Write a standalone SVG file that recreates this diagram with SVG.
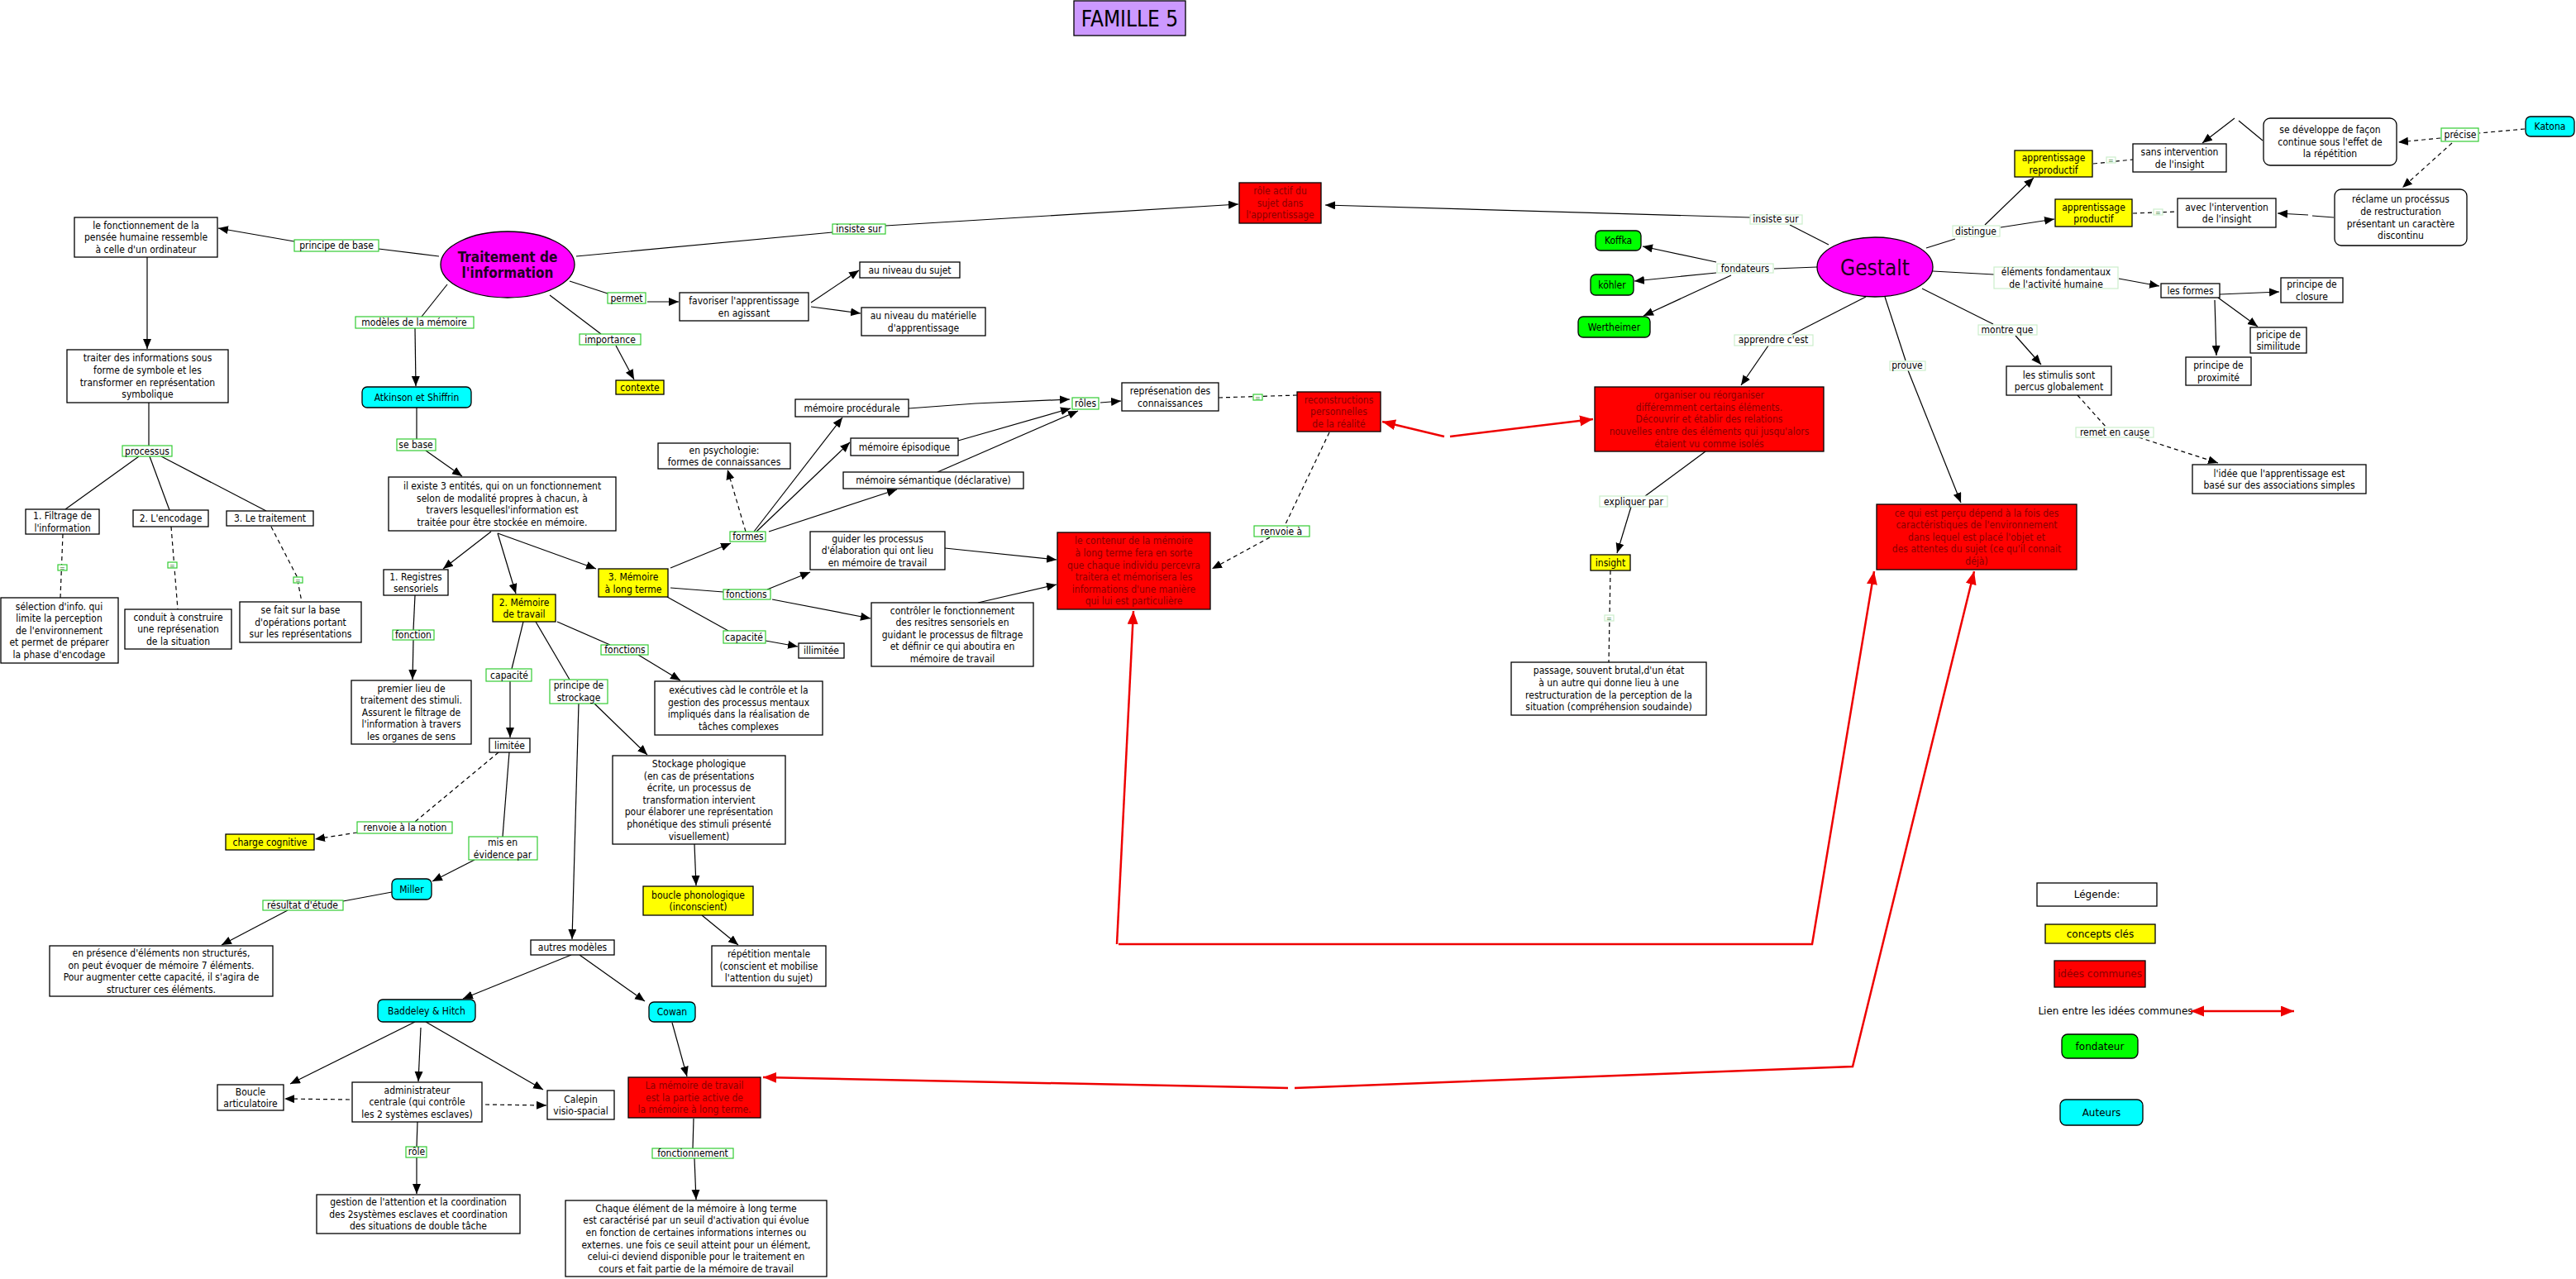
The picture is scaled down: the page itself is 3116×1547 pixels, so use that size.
<svg xmlns="http://www.w3.org/2000/svg" width="3116" height="1547" viewBox="0 0 3116 1547">
<style>
.n{fill:#fff;stroke:#000;stroke-width:1.3}
.y{fill:#ff0;stroke:#000;stroke-width:1.3}
.r{fill:#f00;stroke:#000;stroke-width:1.3}
.c{fill:#0ff;stroke:#000;stroke-width:1.3}
.g{fill:#0f0;stroke:#000;stroke-width:1.3}
.m{fill:#f0f;stroke:#000;stroke-width:1.3}
.p{fill:#c9f;stroke:#000;stroke-width:1.3}
.lb{fill:#fff;stroke:#3c3;stroke-width:1.2}
.lp{fill:#fff;stroke:#cec;stroke-width:1.2}
text{font-family:"DejaVu Sans Condensed","Liberation Sans",sans-serif;font-size:12px;fill:#000;text-anchor:middle}
.rt{fill:#800}
.lg{font-family:"DejaVu Sans","Liberation Sans",sans-serif}
.eq{font-size:9px;fill:#060}
.l{stroke:#000;stroke-width:1.2;fill:none}
.d{stroke-dasharray:5,4}
.rl{stroke:#e00;stroke-width:2.5;fill:none}
.ah{marker-end:url(#a)}
.rh{marker-end:url(#ar)}
</style>
<defs>
<marker id="a" markerUnits="userSpaceOnUse" markerWidth="13" markerHeight="11" refX="12" refY="5" orient="auto"><path d="M0,0 L12,5 L0,10 z" fill="#000"/></marker>
<marker id="ar" markerUnits="userSpaceOnUse" markerWidth="17" markerHeight="14" refX="16" refY="6.5" orient="auto"><path d="M0,0 L16,6.5 L0,13 z" fill="#e00"/></marker>
</defs>

<g id="connectors">
<path class="l" d="M531,310 L458,301"/>
<path class="l ah" d="M356,292 L264,276"/>
<path class="l ah" d="M178,311 L178,422"/>
<path class="l" d="M180,487 L180,539"/>
<path class="l" d="M168,552 L79,616"/>
<path class="l" d="M181,552 L205,617"/>
<path class="l" d="M195,552 L322,618"/>
<path class="l d" d="M76,646 L73,723"/>
<path class="l d" d="M207,637 L215,737"/>
<path class="l d" d="M328,637 L359,697 L365,728"/>
<path class="l" d="M541,344 L510,383"/>
<path class="l ah" d="M502,397 L503,467"/>
<path class="l" d="M504,493 L504,531"/>
<path class="l ah" d="M515,545 L559,576"/>
<path class="l ah" d="M594,643 L536,688"/>
<path class="l ah" d="M602,645 L624,718"/>
<path class="l ah" d="M602,645 L721,688"/>
<path class="l" d="M502,720 L500,762"/>
<path class="l ah" d="M500,774 L499,822"/>
<path class="l" d="M633,752 L619,809"/>
<path class="l ah" d="M617,824 L617,892"/>
<path class="l d" d="M603,910 L502,994"/>
<path class="l d ah" d="M432,1007 L381,1015"/>
<path class="l" d="M616,910 L608,1012"/>
<path class="l ah" d="M574,1040 L523,1066"/>
<path class="l" d="M474,1079 L415,1090"/>
<path class="l ah" d="M348,1101 L268,1143"/>
<path class="l" d="M648,752 L689,822"/>
<path class="l ah" d="M700,851 L692,1136"/>
<path class="l ah" d="M719,851 L783,913"/>
<path class="l" d="M674,752 L738,780"/>
<path class="l ah" d="M772,792 L823,823"/>
<path class="l ah" d="M840,1021 L842,1071"/>
<path class="l ah" d="M849,1107 L893,1143"/>
<path class="l ah" d="M691,1155 L560,1208"/>
<path class="l ah" d="M701,1155 L780,1211"/>
<path class="l ah" d="M502,1236 L351,1311"/>
<path class="l ah" d="M509,1243 L506,1308"/>
<path class="l ah" d="M515,1236 L657,1318"/>
<path class="l d ah" d="M423,1330 L344,1329"/>
<path class="l d ah" d="M587,1336 L661,1337"/>
<path class="l" d="M505,1357 L504,1387"/>
<path class="l ah" d="M504,1400 L504,1444"/>
<path class="l ah" d="M813,1237 L831,1302"/>
<path class="l" d="M839,1353 L838,1389"/>
<path class="l ah" d="M840,1401 L842,1451"/>
<path class="l" d="M689,340 L735,355"/>
<path class="l ah" d="M783,365 L821,365"/>
<path class="l ah" d="M981,366 L1039,327"/>
<path class="l ah" d="M981,371 L1041,379"/>
<path class="l" d="M665,357 L727,404"/>
<path class="l ah" d="M745,418 L767,459"/>
<path class="l" d="M697,310 L1007,281"/>
<path class="l ah" d="M1071,273 L1498,247"/>
<path class="l ah" d="M811,687 L884,657"/>
<path class="l d ah" d="M902,643 L880,568"/>
<path class="l ah" d="M912,643 L1019,505"/>
<path class="l ah" d="M915,643 L1028,535"/>
<path class="l ah" d="M930,643 L1085,592"/>
<path class="l" d="M811,711 L875,716"/>
<path class="l ah" d="M928,713 L980,692"/>
<path class="l ah" d="M934,725 L1053,748"/>
<path class="l" d="M807,722 L881,763"/>
<path class="l ah" d="M926,775 L965,782"/>
<path class="l ah" d="M1143,663 L1278,677"/>
<path class="l ah" d="M1183,729 L1278,707"/>
<path class="l ah" d="M1099,494 L1180,488 L1294,483"/>
<path class="l ah" d="M1159,533 L1295,494"/>
<path class="l ah" d="M1134,571 L1304,497"/>
<path class="l ah" d="M1331,487 L1356,485"/>
<path class="l d" d="M1474,481 L1569,478"/>
<path class="l d" d="M1608,523 L1554,636"/>
<path class="l d ah" d="M1536,650 L1466,688"/>
<path class="rl rh" d="M1747,528 L1672,510"/>
<path class="rl rh" d="M1754,528 L1927,507"/>
<path class="rl rh" d="M1351,1142 L1371,739"/>
<path class="rl rh" d="M1353,1142 L2192,1142 L2267,691"/>
<path class="rl rh" d="M1558,1316 L923,1303"/>
<path class="rl rh" d="M1566,1316 L2241,1290 L2388,691"/>
<path class="l ah" d="M2117,263 L1603,248"/>
<path class="l" d="M2212,296 L2165,272"/>
<path class="l" d="M2198,323 L2146,325"/>
<path class="l ah" d="M2076,317 L1987,298"/>
<path class="l ah" d="M2076,330 L1977,340"/>
<path class="l ah" d="M2094,333 L1988,382"/>
<path class="l" d="M2330,300 L2365,289"/>
<path class="l ah" d="M2401,272 L2460,215"/>
<path class="l ah" d="M2420,275 L2485,265"/>
<path class="l d" d="M2532,198 L2580,193"/>
<path class="l d" d="M2580,258 L2634,256"/>
<path class="l" d="M2737,170 L2708,146"/>
<path class="l ah" d="M2703,143 L2664,173"/>
<path class="l d" d="M3054,156 L2999,161"/>
<path class="l d ah" d="M2952,167 L2901,172"/>
<path class="l d ah" d="M2966,173 L2906,227"/>
<path class="l" d="M2823,263 L2797,261"/>
<path class="l ah" d="M2792,260 L2755,258"/>
<path class="l" d="M2338,328 L2412,332"/>
<path class="l ah" d="M2563,337 L2612,346"/>
<path class="l ah" d="M2685,356 L2757,353"/>
<path class="l ah" d="M2683,360 L2731,395"/>
<path class="l ah" d="M2679,363 L2681,430"/>
<path class="l" d="M2325,349 L2411,392"/>
<path class="l ah" d="M2438,406 L2469,441"/>
<path class="l d" d="M2513,478 L2548,517"/>
<path class="l d ah" d="M2587,529 L2683,560"/>
<path class="l" d="M2257,359 L2167,405"/>
<path class="l ah" d="M2139,418 L2106,466"/>
<path class="l" d="M2280,359 L2305,436"/>
<path class="l ah" d="M2308,448 L2372,608"/>
<path class="l" d="M2063,546 L1990,600"/>
<path class="l ah" d="M1973,613 L1956,669"/>
<path class="l d" d="M1948,690 L1946,801"/>
</g>

<g id="labels">
<rect class="lb" x="356" y="290" width="102" height="14"/><text x="407" y="301.3">principe de base</text>
<rect class="lb" x="430" y="383" width="143" height="14"/><text x="501" y="394.3">modèles de la mémoire</text>
<rect class="lb" x="735" y="354" width="46" height="13"/><text x="758" y="364.8">permet</text>
<rect class="lb" x="701" y="404" width="74" height="13"/><text x="738" y="414.8">importance</text>
<rect class="lb" x="1007" y="271" width="64" height="12"/><text x="1039" y="281.3">insiste sur</text>
<rect class="lb" x="148" y="539" width="60" height="13"/><text x="178" y="549.8">processus</text>
<rect class="lb" x="480" y="531" width="47" height="14"/><text x="503" y="542.3">se base</text>
<rect class="lb" x="475" y="762" width="50" height="12"/><text x="500" y="772.3">fonction</text>
<rect class="lb" x="588" y="809" width="55" height="15"/><text x="616" y="820.8">capacité</text>
<rect class="lb" x="665" y="822" width="70" height="29"/><text x="700" y="833"><tspan x="700">principe de</tspan><tspan x="700" dy="14.6">strockage</tspan></text>
<rect class="lb" x="727" y="780" width="57" height="12"/><text x="756" y="790.3">fonctions</text>
<rect class="lb" x="432" y="994" width="115" height="14"/><text x="490" y="1005.3">renvoie à la notion</text>
<rect class="lb" x="567" y="1012" width="83" height="28"/><text x="608" y="1023"><tspan x="608">mis en</tspan><tspan x="608" dy="14.6">évidence par</tspan></text>
<rect class="lb" x="318" y="1089" width="97" height="12"/><text x="366" y="1099.3">résultat d'étude</text>
<rect class="lb" x="491" y="1387" width="25" height="13"/><text x="504" y="1397.3">rôle</text>
<rect class="lb" x="789" y="1389" width="98" height="12"/><text x="838" y="1399.3">fonctionnement</text>
<rect class="lb" x="883" y="643" width="43" height="12"/><text x="905" y="653.3">formes</text>
<rect class="lb" x="875" y="713" width="57" height="12"/><text x="903" y="723.3">fonctions</text>
<rect class="lb" x="875" y="763" width="51" height="15"/><text x="900" y="774.8">capacité</text>
<rect class="lb" x="1297" y="481" width="32" height="14"/><text x="1313" y="492.3">rôles</text>
<rect class="lb" x="1517" y="636" width="67" height="13"/><text x="1550" y="646.8">renvoie à</text>
<rect class="lb" x="70" y="683" width="11" height="7"/><text class="eq" x="75.5" y="690">=</text>
<rect class="lb" x="203" y="680" width="11" height="7"/><text class="eq" x="208.5" y="687">=</text>
<rect class="lb" x="355" y="698" width="11" height="7"/><text class="eq" x="360.5" y="705">=</text>
<rect class="lb" x="1516" y="477" width="11" height="7"/><text class="eq" x="1521.5" y="484">=</text>
<rect class="lp" x="2117" y="260" width="63" height="11"/><text x="2148" y="269.3">insiste sur</text>
<rect class="lp" x="2077" y="319" width="68" height="11"/><text x="2111" y="329.3">fondateurs</text>
<rect class="lp" x="2362" y="273" width="57" height="13"/><text x="2390" y="284.3">distingue</text>
<rect class="lp" x="2412" y="323" width="150" height="26"/><text x="2487" y="333"><tspan x="2487">éléments fondamentaux</tspan><tspan x="2487" dy="14.6">de l'activité humaine</tspan></text>
<rect class="lp" x="2393" y="393" width="71" height="12"/><text x="2428" y="403.3">montre que</text>
<rect class="lp" x="2098" y="405" width="95" height="13"/><text x="2145" y="415.3">apprendre c'est</text>
<rect class="lp" x="2286" y="437" width="43" height="11"/><text x="2307" y="446.3">prouve</text>
<rect class="lp" x="1935" y="600" width="82" height="13"/><text x="1976" y="611.3">expliquer par</text>
<rect class="lp" x="2511" y="517" width="94" height="12"/><text x="2558" y="527.3">remet en cause</text>
<rect class="lb" x="2953" y="155" width="45" height="16"/><text x="2976" y="167.3">précise</text>
<rect class="lp" x="2548" y="190" width="11" height="7"/><text class="eq" x="2553.5" y="197">=</text>
<rect class="lp" x="2605" y="253" width="11" height="7"/><text class="eq" x="2610.5" y="260">=</text>
<rect class="lp" x="1941" y="744" width="11" height="7"/><text class="eq" x="1946.5" y="751">=</text>
</g>

<g id="title"><rect class="p" x="1299" y="1" width="135" height="42"/><text x="1366.5" y="31.5" style="font-size:26px">FAMILLE 5</text></g>

<g id="traitement"><ellipse class="m" cx="614" cy="320" rx="81" ry="40"/><text x="614" y="316.7" style="font-size:17px;font-weight:bold;fill:#202"><tspan x="614">Traitement de</tspan><tspan x="614" dy="19.5">l'information</tspan></text></g>
<g id="n1"><rect class="n" x="90" y="263" width="173" height="48"/><text x="176.5" y="276.7"><tspan x="176.5">le fonctionnement de la</tspan><tspan x="176.5" dy="14.6">pensée humaine ressemble</tspan><tspan x="176.5" dy="14.6">à celle d'un ordinateur</tspan></text></g>
<g id="n2"><rect class="n" x="81" y="423" width="195" height="64"/><text x="178.5" y="437.4"><tspan x="178.5">traiter des informations sous</tspan><tspan x="178.5" dy="14.6">forme de symbole et les</tspan><tspan x="178.5" dy="14.6">transformer en représentation</tspan><tspan x="178.5" dy="14.6">symbolique</tspan></text></g>
<g id="n3"><rect class="n" x="31" y="616" width="89" height="30"/><text x="75.5" y="628"><tspan x="75.5">1. Filtrage de</tspan><tspan x="75.5" dy="14.6">l'information</tspan></text></g>
<g id="n4"><rect class="n" x="161" y="617" width="91" height="20"/><text x="206.5" y="631.3">2. L'encodage</text></g>
<g id="n5"><rect class="n" x="274" y="618" width="105" height="18"/><text x="326.5" y="631.3">3. Le traitement</text></g>
<g id="n6"><rect class="n" x="1" y="723" width="142" height="79"/><text x="71.5" y="737.6"><tspan x="71.5">sélection d'info. qui</tspan><tspan x="71.5" dy="14.6">limite la perception</tspan><tspan x="71.5" dy="14.6">de l'environnement</tspan><tspan x="71.5" dy="14.6">et permet de préparer</tspan><tspan x="71.5" dy="14.6">la phase d'encodage</tspan></text></g>
<g id="n7"><rect class="n" x="151" y="737" width="129" height="48"/><text x="215.5" y="750.7"><tspan x="215.5">conduit à construire</tspan><tspan x="215.5" dy="14.6">une représenation</tspan><tspan x="215.5" dy="14.6">de la situation</tspan></text></g>
<g id="n8"><rect class="n" x="290" y="728" width="147" height="49"/><text x="363.5" y="742.2"><tspan x="363.5">se fait sur la base</tspan><tspan x="363.5" dy="14.6">d'opérations portant</tspan><tspan x="363.5" dy="14.6">sur les représentations</tspan></text></g>
<g id="atkinson"><rect class="c" x="438" y="468" width="132" height="25" rx="6"/><text x="504" y="484.8">Atkinson et Shiffrin</text></g>
<g id="n10"><rect class="n" x="470" y="577" width="275" height="65"/><text x="607.5" y="591.9"><tspan x="607.5">il existe 3 entités, qui on un fonctionnement</tspan><tspan x="607.5" dy="14.6">selon de modalité propres à chacun, à</tspan><tspan x="607.5" dy="14.6">travers lesquellesl'information est</tspan><tspan x="607.5" dy="14.6">traitée pour être stockée en mémoire.</tspan></text></g>
<g id="n11"><rect class="n" x="464" y="689" width="78" height="31"/><text x="503" y="701.5"><tspan x="503">1. Registres</tspan><tspan x="503" dy="14.6">sensoriels</tspan></text></g>
<g id="n12"><rect class="n" x="425" y="823" width="145" height="77"/><text x="497.5" y="836.6"><tspan x="497.5">premier lieu de</tspan><tspan x="497.5" dy="14.6">traitement des stimuli.</tspan><tspan x="497.5" dy="14.6">Assurent le filtrage de</tspan><tspan x="497.5" dy="14.6">l'information à travers</tspan><tspan x="497.5" dy="14.6">les organes de sens</tspan></text></g>
<g id="n13"><rect class="y" x="596" y="719" width="76" height="33"/><text x="634" y="732.5"><tspan x="634">2. Mémoire</tspan><tspan x="634" dy="14.6">de travail</tspan></text></g>
<g id="n14"><rect class="y" x="724" y="688" width="84" height="34"/><text x="766" y="702"><tspan x="766">3. Mémoire</tspan><tspan x="766" dy="14.6">à long terme</tspan></text></g>
<g id="n15"><rect class="n" x="592" y="893" width="49" height="17"/><text x="616.5" y="905.8">limitée</text></g>
<g id="n16"><rect class="y" x="273" y="1009" width="107" height="19"/><text x="326.5" y="1022.8">charge cognitive</text></g>
<g id="miller"><rect class="c" x="474" y="1063" width="48" height="25" rx="6"/><text x="498" y="1079.8">Miller</text></g>
<g id="n18"><rect class="n" x="60" y="1144" width="270" height="61"/><text x="195" y="1156.9"><tspan x="195">en présence d'éléments non structurés,</tspan><tspan x="195" dy="14.6">on peut évoquer de mémoire 7 éléments.</tspan><tspan x="195" dy="14.6">Pour augmenter cette capacité, il s'agira de</tspan><tspan x="195" dy="14.6">structurer ces éléments.</tspan></text></g>
<g id="n19"><rect class="n" x="642" y="1137" width="101" height="18"/><text x="692.5" y="1150.3">autres modèles</text></g>
<g id="baddeley"><rect class="c" x="457" y="1209" width="118" height="27" rx="6"/><text x="516" y="1226.8">Baddeley &amp; Hitch</text></g>
<g id="cowan"><rect class="c" x="785" y="1212" width="56" height="24" rx="6"/><text x="813" y="1228.3">Cowan</text></g>
<g id="n22"><rect class="n" x="263" y="1312" width="80" height="31"/><text x="303" y="1324.5"><tspan x="303">Boucle</tspan><tspan x="303" dy="14.6">articulatoire</tspan></text></g>
<g id="n23"><rect class="n" x="426" y="1309" width="157" height="48"/><text x="504.5" y="1322.7"><tspan x="504.5">administrateur</tspan><tspan x="504.5" dy="14.6">centrale (qui contrôle</tspan><tspan x="504.5" dy="14.6">les 2 systèmes esclaves)</tspan></text></g>
<g id="n24"><rect class="n" x="662" y="1319" width="81" height="35"/><text x="702.5" y="1333.5"><tspan x="702.5">Calepin</tspan><tspan x="702.5" dy="14.6">visio-spacial</tspan></text></g>
<g id="n25"><rect class="n" x="383" y="1445" width="246" height="47"/><text x="506" y="1458.2"><tspan x="506">gestion de l'attention et la coordination</tspan><tspan x="506" dy="14.6">des 2systèmes esclaves et coordination</tspan><tspan x="506" dy="14.6">des situations de double tâche</tspan></text></g>
<g id="n26"><rect class="r" x="760" y="1303" width="160" height="49"/><text class="rt" x="840" y="1317.2"><tspan x="840">La mémoire de travail</tspan><tspan x="840" dy="14.6">est la partie active de</tspan><tspan x="840" dy="14.6">la mémoire à long terme.</tspan></text></g>
<g id="n27"><rect class="n" x="684" y="1452" width="316" height="92"/><text x="842" y="1465.8"><tspan x="842">Chaque élément de la mémoire à long terme</tspan><tspan x="842" dy="14.6">est caractérisé par un seuil d'activation qui évolue</tspan><tspan x="842" dy="14.6">en fonction de certaines informations internes ou</tspan><tspan x="842" dy="14.6">externes. une fois ce seuil atteint pour un élément,</tspan><tspan x="842" dy="14.6">celui-ci deviend disponible pour le traitement en</tspan><tspan x="842" dy="14.6">cours et fait partie de la mémoire de travail</tspan></text></g>
<g id="n28"><rect class="n" x="792" y="824" width="203" height="65"/><text x="893.5" y="838.9"><tspan x="893.5">exécutives càd le contrôle et la</tspan><tspan x="893.5" dy="14.6">gestion des processus mentaux</tspan><tspan x="893.5" dy="14.6">impliqués dans la réalisation de</tspan><tspan x="893.5" dy="14.6">tâches complexes</tspan></text></g>
<g id="n29"><rect class="n" x="741" y="914" width="209" height="107"/><text x="845.5" y="928"><tspan x="845.5">Stockage phologique</tspan><tspan x="845.5" dy="14.6">(en cas de présentations</tspan><tspan x="845.5" dy="14.6">écrite, un processus de</tspan><tspan x="845.5" dy="14.6">transformation intervient</tspan><tspan x="845.5" dy="14.6">pour élaborer une représentation</tspan><tspan x="845.5" dy="14.6">phonétique des stimuli présenté</tspan><tspan x="845.5" dy="14.6">visuellement)</tspan></text></g>
<g id="n30"><rect class="y" x="778" y="1072" width="133" height="35"/><text x="844.5" y="1086.5"><tspan x="844.5">boucle phonologique</tspan><tspan x="844.5" dy="14.6">(inconscient)</tspan></text></g>
<g id="n31"><rect class="n" x="861" y="1144" width="138" height="49"/><text x="930" y="1158.2"><tspan x="930">répétition mentale</tspan><tspan x="930" dy="14.6">(conscient et mobilise</tspan><tspan x="930" dy="14.6">l'attention du sujet)</tspan></text></g>
<g id="n32"><rect class="n" x="822" y="354" width="156" height="34"/><text x="900" y="368"><tspan x="900">favoriser l'apprentissage</tspan><tspan x="900" dy="14.6">en agissant</tspan></text></g>
<g id="n33"><rect class="n" x="1040" y="317" width="121" height="19"/><text x="1100.5" y="330.8">au niveau du sujet</text></g>
<g id="n34"><rect class="n" x="1042" y="372" width="150" height="34"/><text x="1117" y="386"><tspan x="1117">au niveau du matérielle</tspan><tspan x="1117" dy="14.6">d'apprentissage</tspan></text></g>
<g id="n35"><rect class="y" x="745" y="460" width="58" height="17"/><text x="774" y="472.8">contexte</text></g>
<g id="n36"><rect class="n" x="962" y="483" width="137" height="21"/><text x="1030.5" y="497.8">mémoire procédurale</text></g>
<g id="n37"><rect class="n" x="1029" y="530" width="130" height="21"/><text x="1094" y="544.8">mémoire épisodique</text></g>
<g id="n38"><rect class="n" x="796" y="536" width="160" height="31"/><text x="876" y="548.5"><tspan x="876">en psychologie:</tspan><tspan x="876" dy="14.6">formes de connaissances</tspan></text></g>
<g id="n39"><rect class="n" x="1020" y="571" width="218" height="20"/><text x="1129" y="585.3">mémoire sémantique (déclarative)</text></g>
<g id="n40"><rect class="n" x="980" y="643" width="163" height="46"/><text x="1061.5" y="655.7"><tspan x="1061.5">guider les processus</tspan><tspan x="1061.5" dy="14.6">d'élaboration qui ont lieu</tspan><tspan x="1061.5" dy="14.6">en mémoire de travail</tspan></text></g>
<g id="n41"><rect class="n" x="1054" y="729" width="196" height="77"/><text x="1152" y="742.6"><tspan x="1152">contrôler le fonctionnement</tspan><tspan x="1152" dy="14.6">des resitres sensoriels en</tspan><tspan x="1152" dy="14.6">guidant le processus de filtrage</tspan><tspan x="1152" dy="14.6">et définir ce qui aboutira en</tspan><tspan x="1152" dy="14.6">mémoire de travail</tspan></text></g>
<g id="n42"><rect class="n" x="966" y="778" width="55" height="18"/><text x="993.5" y="791.3">illimitée</text></g>
<g id="n43"><rect class="r" x="1279" y="644" width="185" height="93"/><text class="rt" x="1371.5" y="658.3"><tspan x="1371.5">le contenur de la mémoire</tspan><tspan x="1371.5" dy="14.6">à long terme fera en sorte</tspan><tspan x="1371.5" dy="14.6">que chaque individu percevra</tspan><tspan x="1371.5" dy="14.6">traitera et mémorisera les</tspan><tspan x="1371.5" dy="14.6">informations d'une manière</tspan><tspan x="1371.5" dy="14.6">qui lui est particulière</tspan></text></g>
<g id="n44"><rect class="n" x="1357" y="463" width="117" height="34"/><text x="1415.5" y="477"><tspan x="1415.5">représenation des</tspan><tspan x="1415.5" dy="14.6">connaissances</tspan></text></g>
<g id="n45"><rect class="r" x="1569" y="474" width="101" height="48"/><text class="rt" x="1619.5" y="487.7"><tspan x="1619.5">reconstructions</tspan><tspan x="1619.5" dy="14.6">personnelles</tspan><tspan x="1619.5" dy="14.6">de la réalité</tspan></text></g>
<g id="n47"><rect class="r" x="1499" y="221" width="99" height="49"/><text class="rt" x="1548.5" y="235.2"><tspan x="1548.5">rôle actif du</tspan><tspan x="1548.5" dy="14.6">sujet dans</tspan><tspan x="1548.5" dy="14.6">l'apprentissage</tspan></text></g>

<g id="gestalt"><ellipse class="m" cx="2268" cy="323" rx="70" ry="36"/><text x="2268" y="332.5" style="font-size:26px;fill:#202">Gestalt</text></g>
<g id="koffka"><rect class="g" x="1930" y="279" width="55" height="24" rx="6"/><text x="1957.5" y="295.3">Koffka</text></g>
<g id="kohler"><rect class="g" x="1924" y="332" width="52" height="25" rx="6"/><text x="1950" y="348.8">köhler</text></g>
<g id="wertheimer"><rect class="g" x="1909" y="383" width="87" height="25" rx="6"/><text x="1952.5" y="399.8">Wertheimer</text></g>
<g id="n51"><rect class="r" x="1929" y="468" width="277" height="78"/><text class="rt" x="2067.5" y="482.1"><tspan x="2067.5">organiser ou réorganiser</tspan><tspan x="2067.5" dy="14.6">différemment certains éléments.</tspan><tspan x="2067.5" dy="14.6">Découvrir et établir des relations</tspan><tspan x="2067.5" dy="14.6">nouvelles entre des éléments qui jusqu'alors</tspan><tspan x="2067.5" dy="14.6">étaient vu comme isolés</tspan></text></g>
<g id="insight"><rect class="y" x="1924" y="671" width="48" height="19"/><text x="1948" y="684.8">insight</text></g>
<g id="n53"><rect class="n" x="1828" y="801" width="236" height="64"/><text x="1946" y="815.4"><tspan x="1946">passage, souvent brutal,d'un état</tspan><tspan x="1946" dy="14.6">à un autre qui donne lieu à une</tspan><tspan x="1946" dy="14.6">restructuration de la perception de la</tspan><tspan x="1946" dy="14.6">situation (compréhension soudainde)</tspan></text></g>
<g id="n54"><rect class="r" x="2270" y="610" width="242" height="79"/><text class="rt" x="2391" y="624.6"><tspan x="2391">ce qui est perçu dépend à la fois des</tspan><tspan x="2391" dy="14.6">caractéristiques de  l'environnement</tspan><tspan x="2391" dy="14.6">dans lequel est placé l'objet et</tspan><tspan x="2391" dy="14.6">des attentes du sujet (ce qu'il connait</tspan><tspan x="2391" dy="14.6">déjà)</tspan></text></g>
<g id="n55"><rect class="y" x="2437" y="182" width="94" height="32"/><text x="2484" y="195"><tspan x="2484">apprentissage</tspan><tspan x="2484" dy="14.6">reproductif</tspan></text></g>
<g id="n56"><rect class="y" x="2486" y="241" width="93" height="33"/><text x="2532.5" y="254.5"><tspan x="2532.5">apprentissage</tspan><tspan x="2532.5" dy="14.6">productif</tspan></text></g>
<g id="n57"><rect class="n" x="2580" y="174" width="113" height="34"/><text x="2636.5" y="188"><tspan x="2636.5">sans intervention</tspan><tspan x="2636.5" dy="14.6">de l'insight</tspan></text></g>
<g id="n58"><rect class="n" x="2634" y="240" width="119" height="35"/><text x="2693.5" y="254.5"><tspan x="2693.5">avec l'intervention</tspan><tspan x="2693.5" dy="14.6">de l'insight</tspan></text></g>
<g id="n59"><rect class="n" x="2738" y="143" width="161" height="57" rx="8"/><text x="2818.5" y="161.2"><tspan x="2818.5">se développe de façon</tspan><tspan x="2818.5" dy="14.6">continue sous l'effet de</tspan><tspan x="2818.5" dy="14.6">la répétition</tspan></text></g>
<g id="katona"><rect class="c" x="3055" y="141" width="59" height="24" rx="6"/><text x="3084.5" y="157.3">Katona</text></g>
<g id="n61"><rect class="n" x="2824" y="229" width="160" height="68" rx="8"/><text x="2904" y="245.4"><tspan x="2904">réclame un procéssus</tspan><tspan x="2904" dy="14.6">de restructuration</tspan><tspan x="2904" dy="14.6">présentant un caractère</tspan><tspan x="2904" dy="14.6">discontinu</tspan></text></g>
<g id="n62"><rect class="n" x="2614" y="343" width="71" height="17"/><text x="2649.5" y="355.8">les formes</text></g>
<g id="n63"><rect class="n" x="2759" y="336" width="75" height="30"/><text x="2796.5" y="348"><tspan x="2796.5">principe de</tspan><tspan x="2796.5" dy="14.6">closure</tspan></text></g>
<g id="n64"><rect class="n" x="2722" y="396" width="68" height="31"/><text x="2756" y="408.5"><tspan x="2756">pricipe de</tspan><tspan x="2756" dy="14.6">similitude</tspan></text></g>
<g id="n65"><rect class="n" x="2644" y="432" width="79" height="34"/><text x="2683.5" y="446"><tspan x="2683.5">principe de</tspan><tspan x="2683.5" dy="14.6">proximité</tspan></text></g>
<g id="n66"><rect class="n" x="2427" y="443" width="127" height="35"/><text x="2490.5" y="457.5"><tspan x="2490.5">les stimulis sont</tspan><tspan x="2490.5" dy="14.6">percus globalement</tspan></text></g>
<g id="n67"><rect class="n" x="2652" y="562" width="210" height="35"/><text x="2757" y="576.5"><tspan x="2757">l'idée que l'apprentissage est</tspan><tspan x="2757" dy="14.6">basé sur des associations simples</tspan></text></g>

<g id="legend">
<rect class="n" x="2464" y="1068" width="145" height="28"/><text class="lg" x="2536.5" y="1086.3">Légende:</text>
<rect class="y" x="2474" y="1118" width="133" height="23"/><text class="lg" x="2540.5" y="1133.8">concepts clés</text>
<rect class="r" x="2485" y="1162" width="110" height="32"/><text class="lg rt" x="2540" y="1182.3">idées communes</text>
<text class="lg" x="2559" y="1227.3">Lien entre les idées communes</text>
<path class="rl rh" d="M2712,1223 L2650,1223"/>
<path class="rl rh" d="M2712,1223 L2775,1223"/>
<rect class="g" x="2494" y="1251" width="92" height="29" rx="7"/><text class="lg" x="2540" y="1270">fondateur</text>
<rect class="c" x="2492" y="1330" width="100" height="31" rx="7"/><text class="lg" x="2542" y="1350">Auteurs</text>
</g>
</svg>
